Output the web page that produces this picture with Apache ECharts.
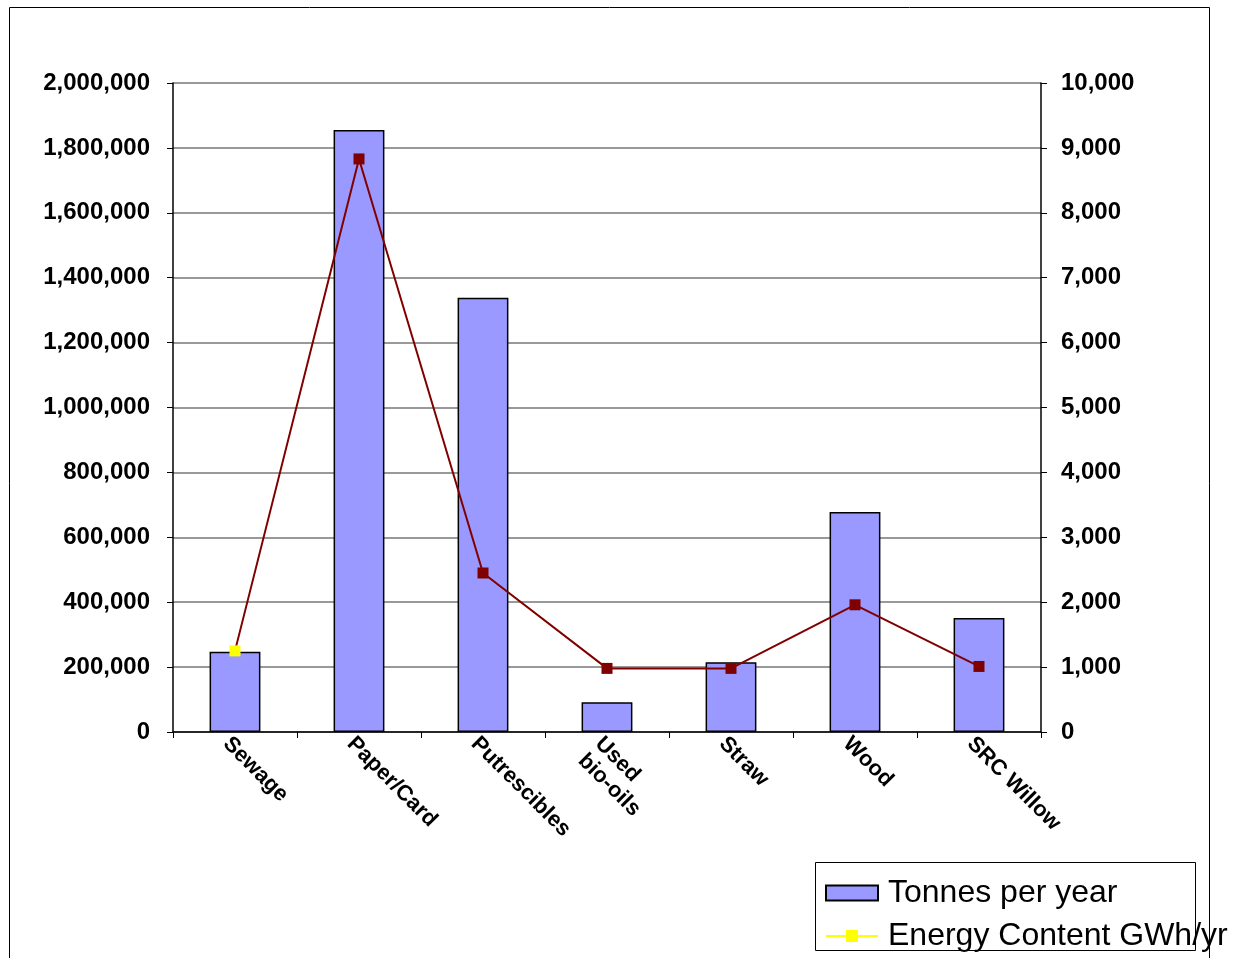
<!DOCTYPE html>
<html><head><meta charset="utf-8">
<script src="https://cdn.jsdelivr.net/npm/echarts@6/dist/echarts.min.js"></script>
<style>html,body{margin:0;padding:0;background:#fff}#c{width:1233px;height:958px}</style>
</head><body><div id="c"></div>
<script>
const categories = ['Sewage','Paper/Card','Putrescibles','Used\nbio-oils','Straw','Wood','SRC Willow'];
const tonnesPerYear = [247000,1855000,1338000,92000,215000,678000,351000];
const energyGWh = [1250,8830,2450,980,980,1960,1010];
const seriesNames = ['Tonnes per year','Energy Content GWh/yr'];
const leftAxis = {min:0,max:2000000,interval:200000};
const rightAxis = {min:0,max:10000,interval:1000};

const FONT = '"Liberation Sans", Arial, sans-serif';
const fmt = v => Number(v).toLocaleString('en-US');
const chart = echarts.init(document.getElementById('c'), null, {renderer:'canvas'});
chart.setOption({
  animation:false,
  backgroundColor:'#fff',
  textStyle:{fontFamily:FONT},
  grid:{left:173,right:192,top:83,bottom:226,containLabel:false},
  graphic:[
    {type:'rect',shape:{x:9.5,y:7.5,width:1200,height:1000},style:{fill:'none',stroke:'#000',lineWidth:1},z:-1},
    {type:'rect',shape:{x:815.5,y:862.5,width:380,height:88},style:{fill:'#fff',stroke:'#000',lineWidth:1},z:0}
  ],
  legend:{
    orient:'vertical',left:820,top:872,itemGap:11,itemWidth:52,itemHeight:15,z:5,
    textStyle:{fontFamily:FONT,fontSize:32,color:'#000',padding:[0,0,0,5]},
    data:[
      {name:seriesNames[0],icon:'rect'},
      {name:seriesNames[1],itemStyle:{color:'#ffff00',borderWidth:0},lineStyle:{color:'#ffff00',width:2}}
    ]
  },
  xAxis:{
    type:'category',data:categories,boundaryGap:true,
    axisLine:{lineStyle:{color:'#000',width:1.5}},
    axisTick:{show:true,length:6,inside:false,alignWithLabel:false,lineStyle:{color:'#000'}},
    axisLabel:{rotate:-45,interval:0,margin:0,verticalAlign:'top',fontFamily:FONT,fontSize:22,fontWeight:'bold',color:'#000',lineHeight:24}
  },
  yAxis:[
    {type:'value',min:leftAxis.min,max:leftAxis.max,interval:leftAxis.interval,position:'left',
     axisLine:{show:true,lineStyle:{color:'#000',width:1.5}},
     axisTick:{show:true,length:6,lineStyle:{color:'#000'}},
     splitLine:{show:true,lineStyle:{color:'#777',width:1.5}},
     axisLabel:{formatter:fmt,margin:23,fontFamily:FONT,fontSize:24,fontWeight:'bold',color:'#000'}},
    {type:'value',min:rightAxis.min,max:rightAxis.max,interval:rightAxis.interval,position:'right',
     axisLine:{show:true,lineStyle:{color:'#000',width:1.5}},
     axisTick:{show:true,length:6,lineStyle:{color:'#000'}},
     splitLine:{show:false},
     axisLabel:{formatter:fmt,margin:20,fontFamily:FONT,fontSize:24,fontWeight:'bold',color:'#000'}}
  ],
  series:[
    {name:seriesNames[0],type:'bar',yAxisIndex:0,data:tonnesPerYear,barWidth:'41%',
     itemStyle:{color:'#9999ff',borderColor:'#000',borderWidth:1.5}},
    {name:seriesNames[1],type:'line',yAxisIndex:1,
     data:energyGWh.map((v,i)=> i===0 ? {value:v,itemStyle:{color:'#ffff00'}} : v),
     symbol:'rect',symbolSize:11,showAllSymbol:true,
     lineStyle:{color:'#800000',width:2},itemStyle:{color:'#800000'},z:3}
  ]
});
</script></body></html>
